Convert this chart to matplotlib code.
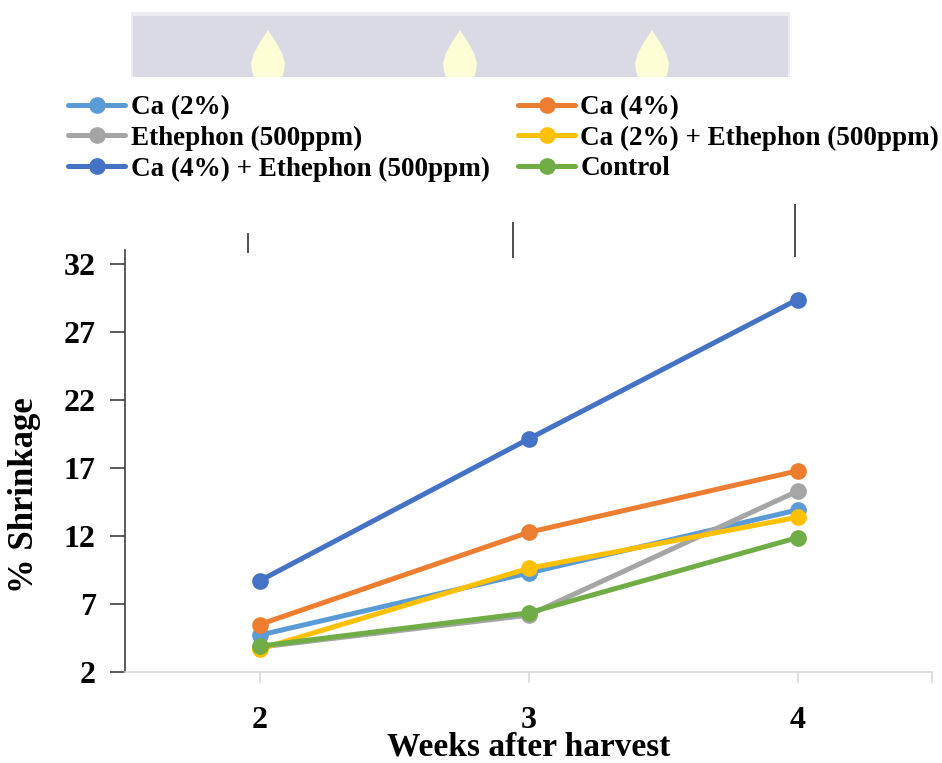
import matplotlib
matplotlib.use('Agg')
import matplotlib.pyplot as plt
from matplotlib.patches import Rectangle, Polygon

# % shrinkage per treatment, weeks 2-4 after harvest
weeks = [2, 3, 4]
ca2 = [4.73, 9.30, 13.94]
ca4 = [5.51, 12.29, 16.81]
eth = [3.85, 6.20, 15.32]
ca2_eth = [3.70, 9.64, 13.40]
ca4_eth = [8.72, 19.15, 29.41]
control = [3.92, 6.37, 11.90]

series_names = ['Ca (2%)', 'Ca (4%)', 'Ethephon (500ppm)',
                'Ca (2%) + Ethephon (500ppm)', 'Ca (4%) + Ethephon (500ppm)', 'Control']
series_values = [ca2, ca4, eth, ca2_eth, ca4_eth, control]
colors = ['#5B9BD5', '#ED7D31', '#A5A5A5', '#FFC000', '#4472C4', '#70AD47']

# stray error bars sitting above the plot area
err_x = [1.959, 2.941, 3.989]
err_lo = [32.83, 32.46, 32.54]
err_hi = [34.30, 35.10, 36.42]

yticks = [2, 7, 12, 17, 22, 27, 32]

plt.rcParams['font.family'] = ['Liberation Serif', 'DejaVu Serif']
plt.rcParams['font.weight'] = 'bold'

W, H = 942, 763
fig = plt.figure(figsize=(W / 100, H / 100), dpi=100)

# faded banner strip at the top
banner = fig.add_axes([0, 0, 1, 1], zorder=-5)
banner.set_xlim(0, W)
banner.set_ylim(H, 0)
banner.axis('off')
banner.add_patch(Rectangle((131, 12), 659, 65, facecolor='#ececf2', edgecolor='none'))
banner.add_patch(Rectangle((133, 16), 655, 61, facecolor='#dadae4', edgecolor='none'))
flame = [(0, 30), (-4, 36), (-9, 44), (-14, 53), (-17, 63), (-16, 71), (-14, 77),
         (14, 77), (16, 71), (17, 63), (14, 53), (9, 44), (4, 36)]
for cx in [268, 460, 652]:
    banner.add_patch(Polygon([(cx + dx, y) for dx, y in flame], closed=True,
                             facecolor='#fdfdd6', edgecolor='none'))

ax = fig.add_axes([125 / W, 1 - 672.3 / H, (932 - 125) / W, (672.3 - 250) / H])

lines = []
for name, vals, c in zip(series_names, series_values, colors):
    ln, = ax.plot(weeks, vals, color=c, linewidth=3.6, marker='o', markersize=11,
                  label=name, solid_capstyle='round', clip_on=False)
    lines.append(ln)

ax.vlines(err_x, err_lo, err_hi, color='#404040', linewidth=1.3, clip_on=False)

ax.set_xlim(1.5, 4.5)
ax.set_ylim(2, 33.05)
ax.set_xticks([2, 3, 4, 4.5])
ax.set_xticklabels(['2', '3', '4', ''])
ax.set_yticks(yticks)
ax.tick_params(axis='x', direction='out', length=8, width=1.2, color='#d9d9d9',
               labelsize=23, pad=16)
ax.tick_params(axis='y', direction='out', length=11, width=1.2, color='#404040',
               labelsize=23, pad=10)
for lab in ax.get_xticklabels() + ax.get_yticklabels():
    lab.set_fontweight('bold')

for s in ['top', 'right']:
    ax.spines[s].set_visible(False)
ax.spines['bottom'].set_color('#d9d9d9')
ax.spines['bottom'].set_linewidth(1.2)
ax.spines['left'].set_color('#404040')
ax.spines['left'].set_linewidth(1.2)

ax.set_xlabel('Weeks after harvest', fontsize=24, fontweight='bold', labelpad=-2)
ax.set_ylabel('% Shrinkage', fontsize=25, fontweight='bold')
ax.yaxis.set_label_coords(-0.104, 0.42)

# legend in two columns: left column first, then right
col1 = [lines[i] for i in [0, 2, 4]]
col2 = [lines[i] for i in [1, 3, 5]]
fig.legend(col1 + col2, [l.get_label() for l in col1 + col2], ncol=2,
           loc='upper left', bbox_to_anchor=(44 / W, 1 - 71 / H), frameon=False,
           handlelength=2.1, handletextpad=0.2, columnspacing=1.05,
           labelspacing=0.2, prop={'weight': 'bold', 'size': 19.5})

fig.savefig('out.png', dpi=100, facecolor='white')
